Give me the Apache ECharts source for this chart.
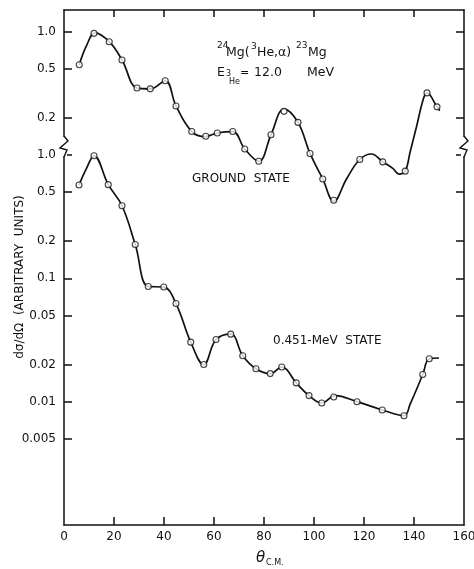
<!DOCTYPE html>
<html><head><meta charset="utf-8">
<script src="https://cdn.jsdelivr.net/npm/echarts@6/dist/echarts.min.js"></script>
<style>html,body{margin:0;padding:0;background:#fff}#c{width:474px;height:569px}</style>
</head><body><div id="c"></div>
<script>
// ---- Ground state (24Mg(3He,a)23Mg, E = 12.0 MeV) : measured points ----
const groundTheta = [6.1, 12, 18.1, 23.2, 29.2, 34.5, 40.5, 44.8, 51.1, 56.7, 61.3, 67.5, 72.3, 77.9, 82.8, 88, 93.6, 98.4, 103.5, 107.9, 118.3, 127.5, 136.5, 145.2, 149.2];
const groundValue = [0.54, 0.97, 0.83, 0.59, 0.35, 0.344, 0.40, 0.25, 0.155, 0.142, 0.151, 0.155, 0.112, 0.089, 0.146, 0.226, 0.184, 0.103, 0.064, 0.043, 0.092, 0.088, 0.074, 0.319, 0.246];
// hand-drawn fit curve through the ground-state points
const groundCurveTheta = [6.1, 9, 12.4, 18.1, 23.2, 29.2, 34.5, 40.5, 44.8, 51.1, 56.5, 61.3, 67.5, 72.3, 77.9, 82.8, 88, 93.6, 98.4, 103.5, 107.9, 113, 118.3, 123, 127.5, 131.5, 134, 136.5, 138.4, 141.1, 143.7, 145.2, 149.2, 150.3];
const groundCurveValue = [0.54, 0.77, 0.98, 0.83, 0.59, 0.35, 0.344, 0.40, 0.25, 0.155, 0.141, 0.151, 0.155, 0.112, 0.089, 0.146, 0.236, 0.184, 0.103, 0.064, 0.042, 0.064, 0.092, 0.102, 0.088, 0.078, 0.070, 0.074, 0.105, 0.173, 0.284, 0.319, 0.246, 0.229];

// ---- 0.451-MeV state : measured points ----
const excitedTheta = [6, 12, 17.7, 23.2, 28.5, 33.7, 39.9, 44.8, 50.7, 55.9, 60.8, 66.7, 71.5, 76.8, 82.5, 87.1, 92.9, 98, 103.1, 107.9, 117.2, 127.3, 136, 143.5, 146.1];
const excitedValue = [0.571, 0.986, 0.575, 0.388, 0.188, 0.086, 0.085, 0.0625, 0.0304, 0.020, 0.0319, 0.0353, 0.0236, 0.0185, 0.0169, 0.0191, 0.0142, 0.0112, 0.00976, 0.0109, 0.0100, 0.00857, 0.0077, 0.0166, 0.0223];
const excitedCurveTheta = [6, 9, 12, 17.7, 23.2, 28.5, 33.7, 39.9, 44.8, 50.7, 55.9, 60.8, 66.7, 71.5, 76.8, 82.5, 87.1, 92.9, 98, 103.1, 108.5, 117.2, 127.3, 136, 138.5, 143.5, 146.1, 150];
const excitedCurveValue = [0.571, 0.78, 0.986, 0.575, 0.388, 0.188, 0.086, 0.085, 0.0625, 0.0304, 0.020, 0.0319, 0.0353, 0.0236, 0.0185, 0.0169, 0.0191, 0.0142, 0.0112, 0.00976, 0.0112, 0.0100, 0.00857, 0.0077, 0.0096, 0.0166, 0.0223, 0.0226];

// ---- axes ----
const xTickLabels = [0, 20, 40, 60, 80, 100, 120, 140, 160];
const xInnerTicks = [20, 40, 60, 80, 100, 120, 140];
// ground state is drawn one decade above the excited state on the same log axis
const GROUND_SHIFT = 10;
const yTickValues = [10, 5, 2, 1, 0.5, 0.2, 0.1, 0.05, 0.02, 0.01, 0.005];
const yTickLabels = ['1.0', '0.5', '0.2', '1.0', '0.5', '0.2', '0.1', '0.05', '0.02', '0.01', '0.005'];

const ink = '#111';
const FONT = '"DejaVu Sans", sans-serif';
const pair = (xs, ys, k) => xs.map((x, i) => [x, ys[i] * (k || 1)]);
const labelFor = v => {
  const i = yTickValues.findIndex(t => Math.abs(t - v) < t * 1e-6);
  return i >= 0 ? yTickLabels[i] : '';
};

const chart = echarts.init(document.getElementById('c'), null, { renderer: 'canvas' });

const axisLine = { show: true, onZero: false, lineStyle: { color: ink, width: 1.5 } };
const tickStyle = { color: ink, width: 1.5 };

const txt = (x, y, text, size) => ({
  type: 'text', x: x, y: y, z: 100,
  style: { text: text, fill: ink, font: size + 'px ' + FONT, align: 'left', verticalAlign: 'middle' }
});

const option = {
  animation: false,
  backgroundColor: '#fff',
  grid: { left: 64, right: 10, top: 10, bottom: 44, outerBoundsMode: 'none' },
  xAxis: [
    { type: 'value', min: 0, max: 160, interval: 20, position: 'bottom',
      axisLine: axisLine,
      axisTick: { show: true, inside: true, length: 8, lineStyle: tickStyle, customValues: xInnerTicks },
      axisLabel: { color: ink, fontSize: 12, fontFamily: FONT, margin: 6, customValues: xTickLabels },
      splitLine: { show: false } },
    { type: 'value', min: 0, max: 160, interval: 20, position: 'top',
      axisLine: axisLine,
      axisTick: { show: true, inside: true, length: 7, lineStyle: tickStyle, customValues: xInnerTicks },
      axisLabel: { show: false }, splitLine: { show: false } }
  ],
  yAxis: [
    { type: 'log', min: 0.001, max: 15, position: 'left',
      axisLine: axisLine,
      axisTick: { show: true, inside: true, length: 8, lineStyle: tickStyle, customValues: yTickValues },
      axisLabel: { color: ink, fontSize: 12, fontFamily: FONT, margin: 8, customValues: yTickValues, formatter: labelFor },
      minorTick: { show: false }, splitLine: { show: false } },
    { type: 'log', min: 0.001, max: 15, position: 'right',
      axisLine: axisLine,
      axisTick: { show: true, inside: true, length: 8, lineStyle: tickStyle, customValues: yTickValues },
      axisLabel: { show: false }, minorTick: { show: false }, splitLine: { show: false } }
  ],
  series: [
    { name: 'ground fit', type: 'line', xAxisIndex: 0, yAxisIndex: 0, smooth: 0.4, showSymbol: false,
      lineStyle: { color: ink, width: 1.7 }, data: pair(groundCurveTheta, groundCurveValue, GROUND_SHIFT), z: 2 },
    { name: 'ground', type: 'scatter', xAxisIndex: 0, yAxisIndex: 0, symbol: 'circle', symbolSize: 6,
      itemStyle: { color: '#fff', borderColor: ink, borderWidth: 1.1 }, data: pair(groundTheta, groundValue, GROUND_SHIFT), z: 3 },
    { name: 'excited fit', type: 'line', xAxisIndex: 0, yAxisIndex: 0, smooth: 0.4, showSymbol: false,
      lineStyle: { color: ink, width: 1.7 }, data: pair(excitedCurveTheta, excitedCurveValue), z: 2 },
    { name: '0.451-MeV', type: 'scatter', xAxisIndex: 0, yAxisIndex: 0, symbol: 'circle', symbolSize: 6,
      itemStyle: { color: '#fff', borderColor: ink, borderWidth: 1.1 }, data: pair(excitedTheta, excitedValue), z: 3 }
  ],
  graphic: [
    // axis break marks
    { type: 'rect', shape: { x: 61, y: 137, width: 6, height: 19 }, style: { fill: '#fff' }, z: 90 },
    { type: 'polyline', shape: { points: [[64, 136], [68, 141], [60, 148], [67, 150], [64, 157]] }, style: { stroke: ink, lineWidth: 1.4, fill: null }, z: 91 },
    { type: 'rect', shape: { x: 461, y: 137, width: 6, height: 19 }, style: { fill: '#fff' }, z: 90 },
    { type: 'polyline', shape: { points: [[464, 136], [468, 141], [460, 148], [467, 150], [464, 157]] }, style: { stroke: ink, lineWidth: 1.4, fill: null }, z: 91 },
    // reaction label
    txt(217, 46, '24', 9), txt(226, 53, 'Mg(', 12.5), txt(251, 47, '3', 9), txt(257, 53, 'He,α)', 12.5),
    txt(296, 46, '23', 9), txt(308, 53, 'Mg', 12.5),
    txt(217, 73, 'E', 12.5), txt(226, 74, '3', 8), txt(229, 82, 'He', 8),
    txt(240, 73, '=', 11), txt(254, 73, '12.0', 12.5), txt(307, 73, 'MeV', 12.5),
    txt(192, 179, 'GROUND  STATE', 12),
    txt(273, 341, '0.451-MeV  STATE', 12),
    // y axis title
    { type: 'text', x: 20, y: 277, rotation: Math.PI / 2, z: 100,
      style: { text: 'dσ/dΩ  (ARBITRARY  UNITS)', fill: ink, font: '12px ' + FONT, align: 'center', verticalAlign: 'middle' } },
    // x axis title
    { type: 'text', x: 256, y: 558, z: 100, style: { text: 'θ', fill: ink, font: 'italic 15px ' + FONT, align: 'left', verticalAlign: 'middle' } },
    txt(266, 563, 'C.M.', 8)
  ]
};
chart.setOption(option);
</script>
</body></html>
